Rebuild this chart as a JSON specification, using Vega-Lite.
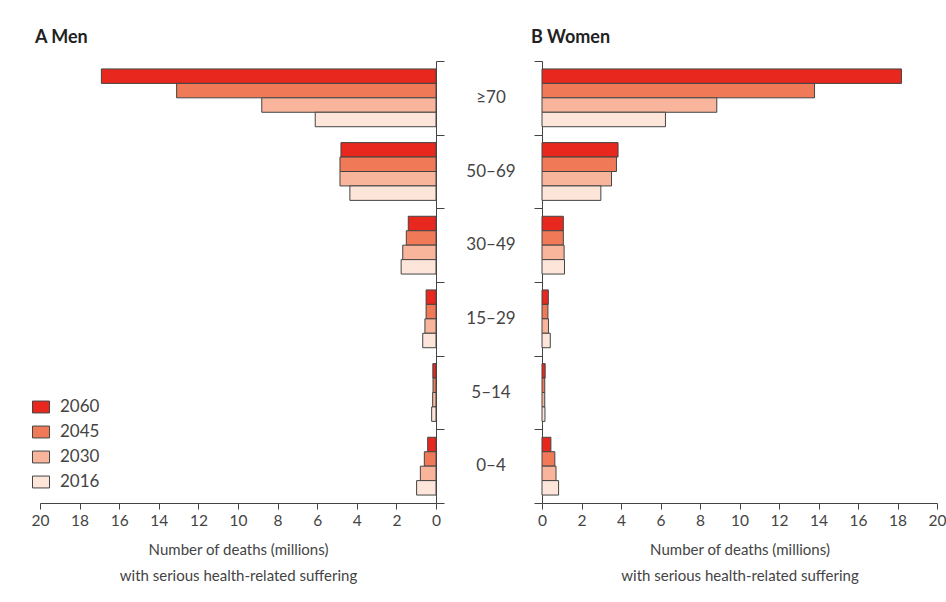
{
  "$schema": "https://vega.github.io/schema/vega-lite/v6.json",
  "background": "white",
  "padding": {"left": 31, "top": 28, "right": 0, "bottom": 0},
  "config": {
    "font": "Lato",
    "view": {"stroke": null},
    "axis": {"domainColor": "#444", "tickColor": "#444", "labelColor": "#444", "titleColor": "#444", "labelFont": "Lato", "titleFont": "Lato", "labelFlush": false}
  },
  "data": {
    "values": [
      {"sex": "Men", "age": "≥70", "year": "2060", "value": 16.9},
      {"sex": "Men", "age": "≥70", "year": "2045", "value": 13.1},
      {"sex": "Men", "age": "≥70", "year": "2030", "value": 8.8},
      {"sex": "Men", "age": "≥70", "year": "2016", "value": 6.1},
      {"sex": "Men", "age": "50–69", "year": "2060", "value": 4.8},
      {"sex": "Men", "age": "50–69", "year": "2045", "value": 4.85},
      {"sex": "Men", "age": "50–69", "year": "2030", "value": 4.85},
      {"sex": "Men", "age": "50–69", "year": "2016", "value": 4.35},
      {"sex": "Men", "age": "30–49", "year": "2060", "value": 1.4},
      {"sex": "Men", "age": "30–49", "year": "2045", "value": 1.5},
      {"sex": "Men", "age": "30–49", "year": "2030", "value": 1.68},
      {"sex": "Men", "age": "30–49", "year": "2016", "value": 1.76},
      {"sex": "Men", "age": "15–29", "year": "2060", "value": 0.5},
      {"sex": "Men", "age": "15–29", "year": "2045", "value": 0.5},
      {"sex": "Men", "age": "15–29", "year": "2030", "value": 0.56},
      {"sex": "Men", "age": "15–29", "year": "2016", "value": 0.67},
      {"sex": "Men", "age": "5–14", "year": "2060", "value": 0.16},
      {"sex": "Men", "age": "5–14", "year": "2045", "value": 0.15},
      {"sex": "Men", "age": "5–14", "year": "2030", "value": 0.17},
      {"sex": "Men", "age": "5–14", "year": "2016", "value": 0.22},
      {"sex": "Men", "age": "0–4", "year": "2060", "value": 0.42},
      {"sex": "Men", "age": "0–4", "year": "2045", "value": 0.59},
      {"sex": "Men", "age": "0–4", "year": "2030", "value": 0.79},
      {"sex": "Men", "age": "0–4", "year": "2016", "value": 0.98},
      {"sex": "Women", "age": "≥70", "year": "2060", "value": 18.2},
      {"sex": "Women", "age": "≥70", "year": "2045", "value": 13.8},
      {"sex": "Women", "age": "≥70", "year": "2030", "value": 8.85},
      {"sex": "Women", "age": "≥70", "year": "2016", "value": 6.25},
      {"sex": "Women", "age": "50–69", "year": "2060", "value": 3.85},
      {"sex": "Women", "age": "50–69", "year": "2045", "value": 3.77},
      {"sex": "Women", "age": "50–69", "year": "2030", "value": 3.52},
      {"sex": "Women", "age": "50–69", "year": "2016", "value": 2.98},
      {"sex": "Women", "age": "30–49", "year": "2060", "value": 1.08},
      {"sex": "Women", "age": "30–49", "year": "2045", "value": 1.08},
      {"sex": "Women", "age": "30–49", "year": "2030", "value": 1.12},
      {"sex": "Women", "age": "30–49", "year": "2016", "value": 1.14},
      {"sex": "Women", "age": "15–29", "year": "2060", "value": 0.32},
      {"sex": "Women", "age": "15–29", "year": "2045", "value": 0.3},
      {"sex": "Women", "age": "15–29", "year": "2030", "value": 0.33},
      {"sex": "Women", "age": "15–29", "year": "2016", "value": 0.42},
      {"sex": "Women", "age": "5–14", "year": "2060", "value": 0.16},
      {"sex": "Women", "age": "5–14", "year": "2045", "value": 0.14},
      {"sex": "Women", "age": "5–14", "year": "2030", "value": 0.14},
      {"sex": "Women", "age": "5–14", "year": "2016", "value": 0.15},
      {"sex": "Women", "age": "0–4", "year": "2060", "value": 0.45},
      {"sex": "Women", "age": "0–4", "year": "2045", "value": 0.65},
      {"sex": "Women", "age": "0–4", "year": "2030", "value": 0.71},
      {"sex": "Women", "age": "0–4", "year": "2016", "value": 0.84}
    ]
  },
  "spacing": 0,
  "resolve": {"scale": {"x": "independent", "y": "independent", "color": "independent"}, "legend": {"color": "independent"}},
  "hconcat": [
    {
      "width": 396,
      "height": 442,
      "title": {"text": "A  Men", "anchor": "start", "frame": "group", "dx": -5, "offset": 14, "fontSize": 18, "fontWeight": "bold", "color": "#222"},
      "transform": [{"filter": "datum.sex === 'Men'"}],
      "mark": {"type": "bar", "stroke": "#444", "strokeWidth": 1},
      "encoding": {
        "y": {"field": "age", "type": "nominal", "sort": ["≥70", "50–69", "30–49", "15–29", "5–14", "0–4"], "scale": {"paddingInner": 0, "paddingOuter": 0}, "axis": {"orient": "right", "labels": false, "tickBand": "extent", "tickSize": 8, "minExtent": 0, "maxExtent": 8, "title": null}},
        "yOffset": {"field": "year", "type": "nominal", "sort": ["2060", "2045", "2030", "2016"], "scale": {"paddingInner": 0, "paddingOuter": 0.55}},
        "x": {"field": "value", "type": "quantitative", "scale": {"domain": [0, 20], "reverse": true, "nice": false}, "axis": {"values": [0, 2, 4, 6, 8, 10, 12, 14, 16, 18, 20], "grid": false, "tickSize": 6, "labelFontSize": 15.5, "labelPadding": 4, "title": ["Number of deaths (millions)", "with serious health-related suffering"], "titleFontSize": 15, "titleFontWeight": "normal", "titleLineHeight": 26, "titlePadding": 14}},
        "color": {"field": "year", "type": "nominal", "scale": {"domain": ["2060", "2045", "2030", "2016"], "range": ["#e8281f", "#f07a58", "#f8b59b", "#fde5da"]}, "legend": {"orient": "none", "legendX": -8, "legendY": 337, "title": null, "padding": 0, "labelFontSize": 17, "labelColor": "#444", "labelFont": "Lato", "labelOffset": 10, "rowPadding": 8, "symbolType": "M-1,-0.7H1V0.7H-1Z", "symbolSize": 289, "symbolStrokeColor": "#444", "symbolStrokeWidth": 1, "symbolOpacity": 1}}
      }
    },
    {
      "width": 86,
      "height": 442,
      "transform": [{"filter": "datum.sex === 'Men' && datum.year === '2016'"}],
      "mark": {"type": "text", "fontSize": 17, "color": "#444", "font": "Lato", "dx": 3},
      "encoding": {
        "y": {"field": "age", "type": "nominal", "sort": ["≥70", "50–69", "30–49", "15–29", "5–14", "0–4"], "scale": {"paddingInner": 0, "paddingOuter": 0}, "axis": null},
        "text": {"field": "age"}
      }
    },
    {
      "width": 395,
      "height": 442,
      "title": {"text": "B  Women", "anchor": "start", "frame": "group", "dx": -11, "offset": 14, "fontSize": 18, "fontWeight": "bold", "color": "#222"},
      "transform": [{"filter": "datum.sex === 'Women'"}],
      "mark": {"type": "bar", "stroke": "#444", "strokeWidth": 1},
      "encoding": {
        "y": {"field": "age", "type": "nominal", "sort": ["≥70", "50–69", "30–49", "15–29", "5–14", "0–4"], "scale": {"paddingInner": 0, "paddingOuter": 0}, "axis": {"orient": "left", "labels": false, "tickBand": "extent", "tickSize": 8, "minExtent": 0, "maxExtent": 8, "title": null}},
        "yOffset": {"field": "year", "type": "nominal", "sort": ["2060", "2045", "2030", "2016"], "scale": {"paddingInner": 0, "paddingOuter": 0.55}},
        "x": {"field": "value", "type": "quantitative", "scale": {"domain": [0, 20], "nice": false}, "axis": {"values": [0, 2, 4, 6, 8, 10, 12, 14, 16, 18, 20], "grid": false, "tickSize": 6, "labelFontSize": 15.5, "labelPadding": 4, "title": ["Number of deaths (millions)", "with serious health-related suffering"], "titleFontSize": 15, "titleFontWeight": "normal", "titleLineHeight": 26, "titlePadding": 14}},
        "color": {"field": "year", "type": "nominal", "scale": {"domain": ["2060", "2045", "2030", "2016"], "range": ["#e8281f", "#f07a58", "#f8b59b", "#fde5da"]}, "legend": null}
      }
    }
  ]
}
